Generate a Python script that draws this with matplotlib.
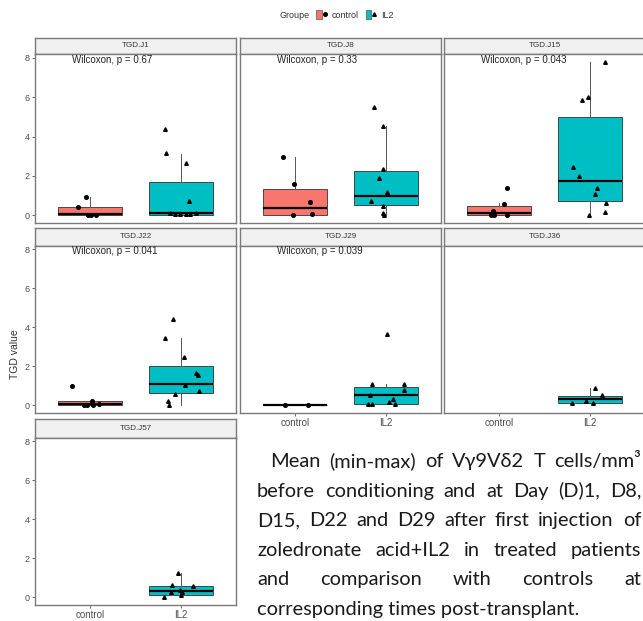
import matplotlib
matplotlib.use("Agg")
import matplotlib.pyplot as plt
from matplotlib.patches import Patch
from matplotlib.lines import Line2D
from matplotlib.legend_handler import HandlerTuple

# ---- data -----------------------------------------------------------------
days = ["TGD.J1", "TGD.J8", "TGD.J15", "TGD.J22", "TGD.J29", "TGD.J36", "TGD.J57"]
groups = ["control", "IL2"]
p_labels = ["Wilcoxon, p = 0.67", "Wilcoxon, p = 0.33", "Wilcoxon, p = 0.043",
            "Wilcoxon, p = 0.041", "Wilcoxon, p = 0.039", None, None]

# box summaries: (whisker low, Q1, median, Q3, whisker high); None = no data
control_box = [
    (0.0, 0.0, 0.05, 0.40, 0.93),
    (0.0, 0.0, 0.39, 1.33, 2.94),
    (0.0, 0.0, 0.14, 0.46, 0.62),
    (0.0, 0.0, 0.09, 0.20, 0.24),
    (0.0, 0.0, 0.0, 0.0, 0.0),
    None,
    None,
]
il2_box = [
    (0.0, 0.02, 0.10, 1.67, 3.10),
    (0.0, 0.51, 0.97, 2.25, 4.51),
    (0.0, 0.73, 1.72, 4.99, 7.80),
    (0.0, 0.63, 1.12, 2.03, 3.44),
    (0.09, 0.09, 0.51, 0.94, 1.10),
    (0.10, 0.10, 0.31, 0.48, 0.88),
    (0.0, 0.12, 0.34, 0.60, 1.24),
]

# individual patient values
control_values = [
    [0.93, 0.44, 0.02, 0.0, 0.02],
    [2.94, 1.58, 0.70, 0.09, 0.0],
    [1.40, 0.60, 0.22, 0.0, 0.0, 0.0],
    [0.97, 0.24, 0.07, 0.03, 0.0, 0.0],
    [0.0, 0.0],
    [],
    [],
]
il2_values = [
    [4.37, 3.15, 2.64, 0.71, 0.10, 0.08, 0.05, 0.05, 0.06, 0.10],
    [5.50, 4.51, 2.35, 1.92, 1.16, 0.71, 0.48, 0.10, 0.03],
    [7.80, 6.00, 5.84, 2.47, 2.00, 1.38, 1.10, 0.61, 0.17, 0.0],
    [4.40, 3.44, 2.49, 1.65, 1.57, 1.06, 0.75, 0.58, 0.20, 0.0],
    [3.64, 1.09, 1.09, 0.80, 0.51, 0.34, 0.17, 0.09, 0.09, 0.09],
    [0.88, 0.51, 0.10, 0.10, 0.25],
    [1.24, 0.61, 0.60, 0.39, 0.26, 0.26, 0.10, 0.0],
]

y_ticks = [0, 2, 4, 6, 8]

caption_lines = [
    "Mean (min-max) of V\u03b39V\u03b42 T cells/mm\u00b3",
    "before conditioning and at Day (D)1, D8,",
    "D15, D22 and D29 after first injection of",
    "zoledronate acid+IL2 in treated patients",
    "and comparison with controls at",
    "corresponding times post-transplant.",
]

# ---- styling / layout -------------------------------------------------------
# horizontal jitter of the points around each box
control_jitter = [
    [-0.04, -0.13, -0.02, 0.01, 0.07],
    [-0.13, -0.01, 0.17, 0.19, -0.02],
    [0.09, 0.06, -0.06, -0.09, -0.05, 0.09],
    [-0.19, 0.02, 0.10, -0.03, -0.06, 0.04],
    [-0.11, 0.14],
    [],
    [],
]
il2_jitter = [
    [-0.18, -0.17, 0.05, 0.09, -0.12, -0.07, -0.01, 0.05, 0.10, 0.16],
    [-0.13, -0.03, -0.03, -0.08, 0.01, -0.17, -0.04, -0.03, -0.02],
    [0.16, -0.02, -0.09, -0.19, -0.12, 0.08, 0.05, 0.17, 0.16, -0.01],
    [-0.09, -0.18, 0.03, 0.16, 0.18, 0.04, 0.19, -0.07, -0.14, -0.13],
    [0.01, -0.16, 0.20, 0.19, -0.18, 0.07, 0.03, -0.20, -0.16, 0.10],
    [0.05, 0.13, -0.20, 0.03, -0.05],
    [-0.03, -0.10, 0.13, -0.01, -0.11, 0.01, 0.0, -0.19],
]

W, H = 643, 621
COL_X = [(35, 236), (240, 441), (444, 645)]
ROWS = [(37.5, 54, 223), (228, 245.5, 413), (419, 437.5, 605)]
FILL = {"control": "#F8766D", "IL2": "#00BFC4"}
MARK = {"control": "o", "IL2": "^"}
BORDER = "#7A7A7A"
TICK_GREY = "#4D4D4D"
SANS = ["Liberation Sans", "DejaVu Sans"]

fig = plt.figure(figsize=(W / 100, H / 100), dpi=100)
fig.patch.set_facecolor("white")


def frac(left, top, right, bottom):
    return [left / W, 1 - bottom / H, (right - left) / W, (bottom - top) / H]


placement = [(0, 0), (0, 1), (0, 2), (1, 0), (1, 1), (1, 2), (2, 0)]
has_xaxis = {4, 5, 6}
has_yaxis = {0, 3, 6}

for i, day in enumerate(days):
    r, c = placement[i]
    x0, x1 = COL_X[c]
    s_top, p_top, p_bot = ROWS[r]

    # facet strip
    sax = fig.add_axes(frac(x0, s_top, x1, p_top))
    sax.set_facecolor("#F0F0F0")
    sax.set_xticks([])
    sax.set_yticks([])
    for sp in sax.spines.values():
        sp.set_color(BORDER)
        sp.set_linewidth(1.0)
    sax.text(0.5, 0.5, day, ha="center", va="center", fontsize=5.8,
             color="#333333", family=SANS, transform=sax.transAxes)

    # panel
    ax = fig.add_axes(frac(x0, p_top, x1, p_bot))
    ax.set_xlim(0.4, 2.6)
    ax.set_ylim(-0.39, 8.19)
    for sp in ax.spines.values():
        sp.set_color(BORDER)
        sp.set_linewidth(1.0)

    for pos, (g, boxes, vals, jit) in enumerate(
            [("control", control_box, control_values, control_jitter),
             ("IL2", il2_box, il2_values, il2_jitter)], start=1):
        b = boxes[i]
        if b is not None:
            lo, q1, med, q3, hi = b
            stats = [dict(whislo=lo, q1=q1, med=med, q3=q3, whishi=hi, fliers=[])]
            ax.bxp(stats, positions=[pos], widths=0.7, patch_artist=True,
                   showfliers=False, showcaps=False,
                   boxprops=dict(facecolor=FILL[g], edgecolor="#333333", linewidth=0.6),
                   medianprops=dict(color="black", linewidth=1.6),
                   whiskerprops=dict(color="#555555", linewidth=0.7),
                   manage_ticks=False)
        if vals[i]:
            xs = [pos + d for d in jit[i]]
            ax.plot(xs, vals[i], linestyle="none", marker=MARK[g], markersize=2.6,
                    color="black", zorder=5)

    if p_labels[i]:
        ax.text(0.81, 7.9, p_labels[i], ha="left", va="center", fontsize=7,
                color="#222222", family=SANS)

    ax.set_yticks(y_ticks)
    ax.set_xticks([1, 2])
    ax.tick_params(axis="both", length=2.2, width=0.6, color=TICK_GREY,
                   labelcolor=TICK_GREY, pad=1.5)
    if i in has_yaxis:
        ax.set_yticklabels([str(t) for t in y_ticks], fontsize=6.5, family=SANS)
    else:
        ax.tick_params(axis="y", length=0, labelleft=False)
    if i in has_xaxis:
        ax.set_xticklabels(groups, fontsize=7, family=SANS)
    else:
        ax.tick_params(axis="x", length=0, labelbottom=False)

# y axis title
fig.text(15 / W, 1 - 354 / H, "TGD value", rotation=90, ha="center", va="center",
         fontsize=7.5, color="#333333", family=SANS)

# legend on top
fig.text(279 / W, 1 - 15 / H, "Groupe", ha="left", va="center", fontsize=6.5,
         color="#333333", family=SANS)
handles = []
for g in groups:
    handles.append((Patch(facecolor=FILL[g], edgecolor="#555555", linewidth=0.5),
                    Line2D([], [], linestyle="none", marker=MARK[g], markersize=2.6,
                           color="black")))
fig.legend(handles, groups, handler_map={tuple: HandlerTuple(ndivide=None)},
           ncols=2, loc="center left", bbox_to_anchor=(316 / W, 1 - 15 / H),
           frameon=False, prop=dict(family=SANS, size=6.5), handlelength=1.3,
           handleheight=1.1, handletextpad=0.4, columnspacing=0.8,
           labelcolor="#333333", borderaxespad=0, borderpad=0)

# caption to the right of the last panel, justified like a paragraph
renderer = fig.canvas.get_renderer()
CAP_FONT = ["Lato", "DejaVu Sans"]
left_edge, right_edge = 257, 641
first_indent = 270

# size at which the full lines fit with some slack left for word spacing
fits = []
for k, line in enumerate(caption_lines[:4]):
    probe = fig.text(0, 0, line, fontsize=10, family=CAP_FONT)
    natural = probe.get_window_extent(renderer).width
    probe.remove()
    avail = right_edge - (first_indent if k == 0 else left_edge)
    fits.append(10 * avail * 0.95 / natural)
cap_size = min(fits)

baselines = [467 + 29.6 * k for k in range(len(caption_lines))]
for k, line in enumerate(caption_lines):
    y = 1 - baselines[k] / H
    start = first_indent if k == 0 else left_edge
    if k == len(caption_lines) - 1:
        fig.text(start / W, y, line, ha="left", va="baseline", fontsize=cap_size,
                 family=CAP_FONT, color="#1A1A1A")
        continue
    words = line.split()
    texts = [fig.text(0, y, w, ha="left", va="baseline", fontsize=cap_size,
                      family=CAP_FONT, color="#1A1A1A") for w in words]
    widths = [t.get_window_extent(renderer).width for t in texts]
    gap = (right_edge - start - sum(widths)) / (len(words) - 1)
    x = start
    for t, w in zip(texts, widths):
        t.set_x(x / W)
        x += w + gap

fig.savefig("out.png", dpi=100, facecolor="white")
